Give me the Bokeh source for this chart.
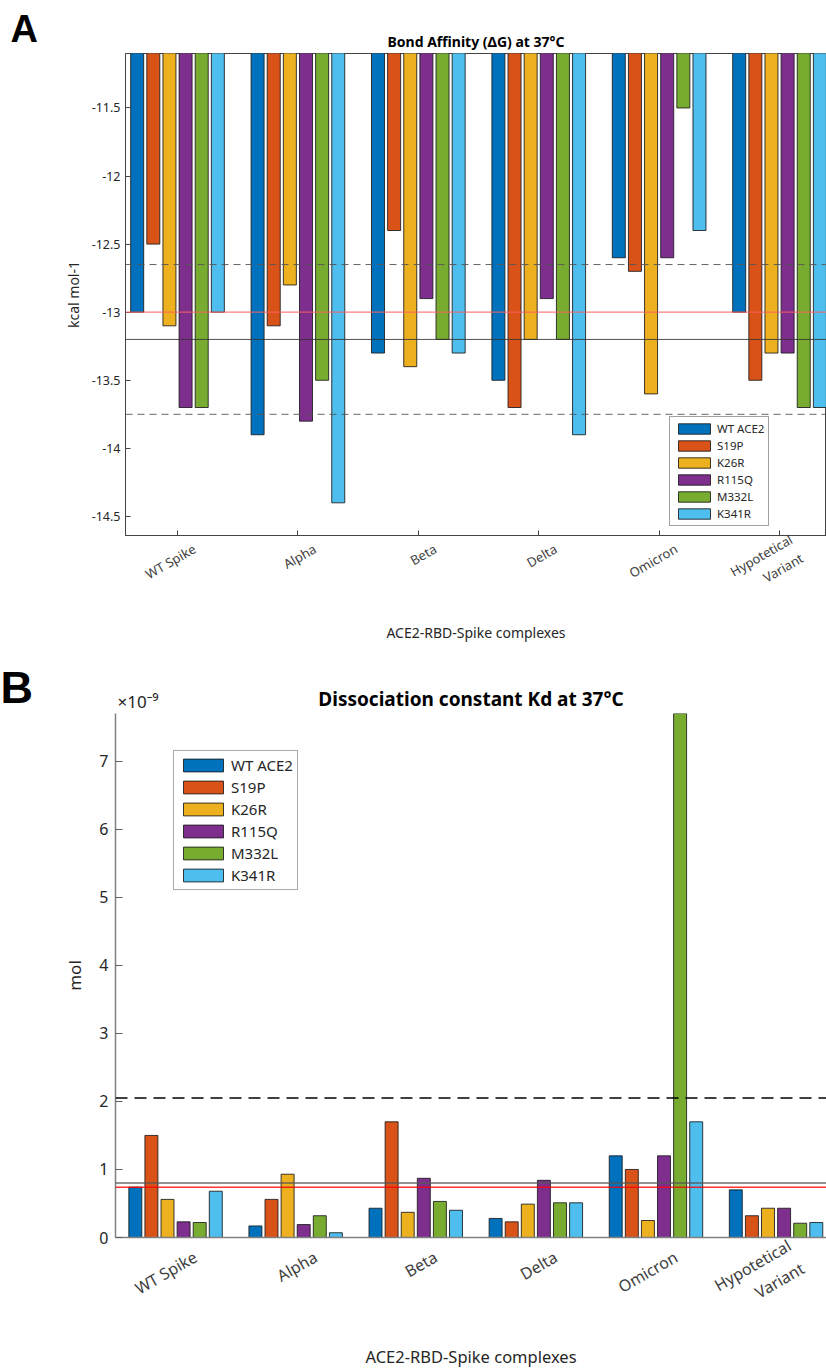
from bokeh.plotting import figure
from bokeh.models import (FixedTicker, Span, Legend, LegendItem, ColumnDataSource,
                          Range1d, LinearAxis, Title)
from bokeh.layouts import column, row
from bokeh.embed import file_html
from bokeh.resources import INLINE
from math import pi

# ---------------- data ----------------
complexes = ["WT Spike", "Alpha", "Beta", "Delta", "Omicron", "Hypotetical\nVariant"]
ace2_variants = ["WT ACE2", "S19P", "K26R", "R115Q", "M332L", "K341R"]
colors = ["#0072BD", "#D95319", "#EDB120", "#7E2F8E", "#77AC30", "#4DBEEE"]

# Panel A: bond affinity dG (kcal mol-1), per ACE2 variant, ordered as `complexes`
dg_wt_ace2 = [-13.0, -13.9, -13.3, -13.5, -12.6, -13.0]
dg_s19p = [-12.5, -13.1, -12.4, -13.7, -12.7, -13.5]
dg_k26r = [-13.1, -12.8, -13.4, -13.2, -13.6, -13.3]
dg_r115q = [-13.7, -13.8, -12.9, -12.9, -12.6, -13.3]
dg_m332l = [-13.7, -13.5, -13.2, -13.2, -11.5, -13.7]
dg_k341r = [-13.0, -14.4, -13.3, -13.9, -12.4, -13.7]
dg_mean = -13.2
dg_band = [-12.65, -13.75]
dg_reference = -13.0
dg_ticks = [-14.5, -14.0, -13.5, -13.0, -12.5, -12.0, -11.5]

# Panel B: dissociation constant Kd (in units of 1e-9 mol)
kd_wt_ace2 = [0.74, 0.17, 0.43, 0.28, 1.20, 0.70]
kd_s19p = [1.50, 0.56, 1.70, 0.23, 1.00, 0.32]
kd_k26r = [0.56, 0.93, 0.37, 0.49, 0.25, 0.43]
kd_r115q = [0.23, 0.19, 0.87, 0.84, 1.20, 0.43]
kd_m332l = [0.22, 0.32, 0.53, 0.51, 7.70, 0.21]
kd_k341r = [0.68, 0.07, 0.40, 0.51, 1.70, 0.22]
kd_upper = 2.05
kd_mean = 0.80
kd_reference = 0.74
kd_ticks = [0, 1, 2, 3, 4, 5, 6, 7]

dg_series = [dg_wt_ace2, dg_s19p, dg_k26r, dg_r115q, dg_m332l, dg_k341r]
kd_series = [kd_wt_ace2, kd_s19p, kd_k26r, kd_r115q, kd_m332l, kd_k341r]

# ---------------- style / layout constants ----------------
FONT = "Noto Sans"
TXT = "#262626"
group_pos = list(range(1, len(complexes) + 1))
STEP = 0.134
BAR_W = 0.108
ROT = pi / 6
STRIP_W = 50
H_A, H_B = 655, 715
W_MAIN = 826 - STRIP_W


def add_bars(p, series):
    rs = []
    for i, (vals, col) in enumerate(zip(series, colors)):
        off = (i - (len(series) - 1) / 2) * STEP
        src = ColumnDataSource(dict(x=[g + off for g in group_pos], top=vals))
        r = p.vbar(x="x", top="top", bottom=0, width=BAR_W, source=src,
                   fill_color=col, line_color="#1a1a1a", line_alpha=0.85, line_width=1)
        rs.append(r)
    return rs


def label_axis(fs, shift_units, standoff, title, title_fs, title_standoff):
    # rotated labels are right-anchored; anchor them a little right of each group
    pos = [g + shift_units for g in group_pos]
    ax = LinearAxis(ticker=FixedTicker(ticks=pos),
                    major_label_overrides={p_: c for p_, c in zip(pos, complexes)},
                    major_label_orientation=ROT,
                    major_label_text_font=FONT, major_label_text_font_size=f"{fs}px",
                    major_label_text_color="#404040", major_label_standoff=standoff,
                    axis_line_color=None, major_tick_line_color=None,
                    minor_tick_line_color=None,
                    axis_label=title, axis_label_text_font=FONT,
                    axis_label_text_font_size=f"{title_fs}px",
                    axis_label_text_font_style="normal", axis_label_text_color=TXT,
                    axis_label_standoff=title_standoff)
    return ax


def base_fig(height, x_range, y_range, left, top, bottom, title, title_fs, title_standoff):
    p = figure(width=W_MAIN, height=height, output_backend="svg", toolbar_location=None,
               x_range=x_range, y_range=y_range,
               min_border_left=left, min_border_right=0, min_border_top=top,
               min_border_bottom=bottom, title=title)
    p.xgrid.visible = False
    p.ygrid.visible = False
    p.title.text_font = FONT
    p.title.text_font_style = "bold"
    p.title.text_font_size = f"{title_fs}px"
    p.title.text_color = "#000000"
    p.title.align = "center"
    p.title.standoff = title_standoff
    # primary x axis: tick marks only, labels come from a second axis
    p.xaxis.ticker = FixedTicker(ticks=group_pos)
    p.xaxis.major_label_overrides = {g: "" for g in group_pos}
    p.xaxis.major_label_text_font_size = "1px"
    p.xaxis.major_label_standoff = 0
    p.xaxis.minor_tick_line_color = None
    p.yaxis.minor_tick_line_color = None
    p.yaxis.major_label_text_font = FONT
    p.yaxis.major_label_text_color = TXT
    p.yaxis.axis_label_text_font = FONT
    p.yaxis.axis_label_text_color = TXT
    p.yaxis.axis_label_text_font_style = "normal"
    return p


def strip(height, top, bottom, letter, offset, fs, standoff):
    s = figure(width=STRIP_W, height=height, output_backend="svg", toolbar_location=None,
               x_range=Range1d(0, 1), y_range=Range1d(0, 1),
               min_border_left=0, min_border_right=0, min_border_top=top,
               min_border_bottom=bottom, outline_line_color=None)
    s.axis.visible = False
    s.grid.visible = False
    s.add_layout(Title(text=letter, align="left", offset=offset, standoff=standoff,
                       text_font="Liberation Sans", text_font_style="bold",
                       text_font_size=f"{fs}px", text_color="#000000"), "above")
    return s


# ---------------- Panel A ----------------
pA = base_fig(H_A, Range1d(0.568, 6.39), Range1d(-14.64, -11.1), 75, 53, 120,
              "Bond Affinity (\u0394G) at 37\u00b0C", 14, 5)
rA = add_bars(pA, dg_series)
pA.outline_line_color = "#444444"
pA.yaxis.ticker = FixedTicker(ticks=dg_ticks)
pA.yaxis.major_label_overrides = {t: f"{t:g}" for t in dg_ticks}
pA.yaxis.major_label_text_font_size = "12.5px"
pA.yaxis.major_label_standoff = 5
pA.yaxis.axis_label = "kcal mol-1"
pA.yaxis.axis_label_text_font_size = "14px"
pA.yaxis.axis_label_standoff = 6
for ax in (pA.xaxis, pA.yaxis):
    ax.axis_line_color = "#444444"
    ax.major_tick_line_color = "#444444"
    ax.major_tick_in = 5
    ax.major_tick_out = 0
pA.add_layout(label_axis(13, 17 / 120.4, 6, "ACE2-RBD-Spike complexes", 14, 4), "below")

for loc in dg_band:
    pA.add_layout(Span(location=loc, dimension="width", line_color="#555555",
                       line_dash="7 5", line_width=1, line_alpha=0.9))
pA.add_layout(Span(location=dg_reference, dimension="width", line_color="#ff6060",
                   line_width=1.2, line_alpha=0.8))
pA.add_layout(Span(location=dg_mean, dimension="width", line_color="#333333",
                   line_width=1, line_alpha=0.85))

legA = Legend(items=[LegendItem(label=n, renderers=[r]) for n, r in zip(ace2_variants, rA)],
              location=(544, 9))
legA.label_text_font = FONT
legA.label_text_font_size = "11.5px"
legA.label_text_color = TXT
legA.glyph_width = 40
legA.glyph_height = 13
legA.label_height = 13
legA.spacing = 2
legA.padding = 4
legA.margin = 0
legA.label_standoff = 3
legA.border_line_color = "#444444"
pA.add_layout(legA)

# ---------------- Panel B ----------------
pB = base_fig(H_B, Range1d(0.5, 6.42), Range1d(0, 7.7), 65, 58, 133,
              "Dissociation constant Kd at 37\u00b0C", 19, -50)
rB = add_bars(pB, kd_series)
pB.outline_line_color = None
pB.yaxis.ticker = FixedTicker(ticks=kd_ticks)
pB.yaxis.major_label_overrides = {t: str(t) for t in kd_ticks}
pB.yaxis.major_label_text_font_size = "16px"
pB.yaxis.major_label_standoff = 7
pB.yaxis.major_tick_line_color = "#606060"
pB.yaxis.major_tick_in = 7
pB.yaxis.major_tick_out = 0
pB.yaxis.axis_label = "mol"
pB.yaxis.axis_label_text_font_size = "17px"
pB.yaxis.axis_label_standoff = 10
for ax in (pB.xaxis, pB.yaxis):
    ax.axis_line_color = "#808080"
    ax.axis_line_width = 1.5
pB.xaxis.major_tick_line_color = None
pB.add_layout(label_axis(16, 20 / 120.1, 6, "ACE2-RBD-Spike complexes", 16.5, 2), "below")
pB.add_layout(Title(text="\u00d710\u207b\u2079", align="left", offset=2, standoff=2,
                    text_font=FONT, text_font_size="17px", text_font_style="normal",
                    text_color=TXT), "above")

pB.add_layout(Span(location=kd_upper, dimension="width", line_color="#000000",
                   line_dash="12 7", line_width=1.3))
pB.add_layout(Span(location=kd_mean, dimension="width", line_color="#555555",
                   line_width=1.5, line_alpha=0.85))
pB.add_layout(Span(location=kd_reference, dimension="width", line_color="#ff0000",
                   line_width=1.5, line_alpha=0.8))

legB = Legend(items=[LegendItem(label=n, renderers=[r]) for n, r in zip(ace2_variants, rB)],
              location=(58, 347))
legB.label_text_font = FONT
legB.label_text_font_size = "15px"
legB.label_text_color = TXT
legB.glyph_width = 50
legB.glyph_height = 16
legB.label_height = 16
legB.spacing = 2
legB.padding = 4
legB.margin = 0
legB.label_standoff = 3
legB.border_line_color = "#555555"
pB.add_layout(legB)

stripA = strip(H_A, 53, 120, "A", 10, 38, 8)
stripB = strip(H_B, 58, 133, "B", 0, 45, 2)

layout = column(row(stripA, pA), row(stripB, pB))
open("out.html", "w").write(file_html(layout, INLINE))
